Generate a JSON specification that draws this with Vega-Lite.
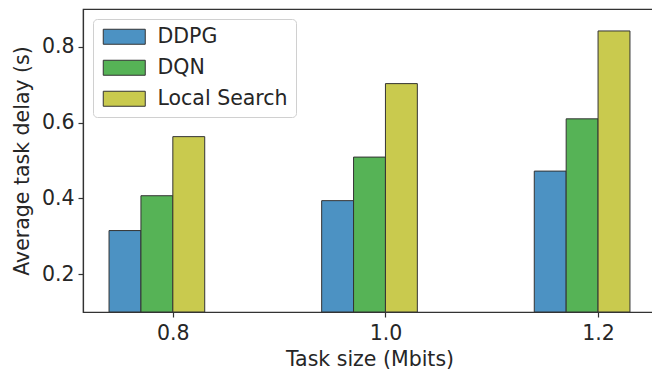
{
  "$schema": "https://vega.github.io/schema/vega-lite/v6.json",
  "width": 573,
  "height": 303,
  "autosize": {"type": "none"},
  "padding": {"left": 83, "top": 9, "right": 0, "bottom": 61},
  "background": "white",
  "config": {
    "font": "DejaVu Sans",
    "view": {"stroke": "#333333", "strokeWidth": 1.2},
    "axis": {
      "labelFont": "DejaVu Sans",
      "titleFont": "DejaVu Sans",
      "labelFontSize": 20.5,
      "titleFontSize": 20.5,
      "labelColor": "#262626",
      "titleColor": "#262626",
      "titleFontWeight": "normal",
      "domainColor": "#333333",
      "tickColor": "#333333",
      "domainWidth": 1.2,
      "tickWidth": 1.2,
      "tickSize": 5,
      "grid": false
    },
    "legend": {
      "labelFont": "DejaVu Sans",
      "labelFontSize": 20.5,
      "labelColor": "#262626",
      "symbolOffset": 13.5
    }
  },
  "data": {
    "values": [
      {"size": 0.8, "method": "DDPG", "delay": 0.315},
      {"size": 0.8, "method": "DQN", "delay": 0.407},
      {"size": 0.8, "method": "Local Search", "delay": 0.563},
      {"size": 1.0, "method": "DDPG", "delay": 0.394},
      {"size": 1.0, "method": "DQN", "delay": 0.509},
      {"size": 1.0, "method": "Local Search", "delay": 0.703},
      {"size": 1.2, "method": "DDPG", "delay": 0.472},
      {"size": 1.2, "method": "DQN", "delay": 0.610},
      {"size": 1.2, "method": "Local Search", "delay": 0.842}
    ]
  },
  "transform": [
    {"calculate": "datum.size + (datum.method == 'DDPG' ? -0.06 : (datum.method == 'DQN' ? -0.03 : 0))", "as": "x0"},
    {"calculate": "datum.x0 + 0.03", "as": "x1"}
  ],
  "mark": {"type": "bar", "stroke": "#333333", "strokeWidth": 1, "clip": true},
  "encoding": {
    "x": {
      "field": "x0",
      "type": "quantitative",
      "scale": {"domain": [0.7155, 1.2545], "nice": false, "zero": false},
      "axis": {
        "title": "Task size (Mbits)",
        "values": [0.8, 1.0, 1.2],
        "format": ".1f",
        "labelPadding": 6,
        "titlePadding": 6
      }
    },
    "x2": {"field": "x1"},
    "y": {
      "field": "delay",
      "type": "quantitative",
      "scale": {"domain": [0.1, 0.9], "nice": false, "zero": false},
      "axis": {
        "title": "Average task delay (s)",
        "values": [0.2, 0.4, 0.6, 0.8],
        "format": ".1f",
        "labelPadding": 4,
        "titlePadding": 9
      }
    },
    "y2": {"datum": 0.1},
    "color": {
      "field": "method",
      "type": "nominal",
      "scale": {
        "domain": ["DDPG", "DQN", "Local Search"],
        "range": ["#4c92c3", "#56b356", "#c9ca4e"]
      },
      "legend": {
        "title": null,
        "orient": "none",
        "legendX": 10,
        "legendY": 10,
        "symbolType": "M-2.8,-1H2.8V1H-2.8Z",
        "symbolSize": 225,
        "symbolStrokeColor": "#333333",
        "symbolStrokeWidth": 1,
        "labelOffset": 23,
        "rowPadding": 10,
        "padding": 7.5,
        "strokeColor": "#d0d0d0",
        "fillColor": "rgba(255,255,255,0.8)",
        "cornerRadius": 4
      }
    }
  }
}
